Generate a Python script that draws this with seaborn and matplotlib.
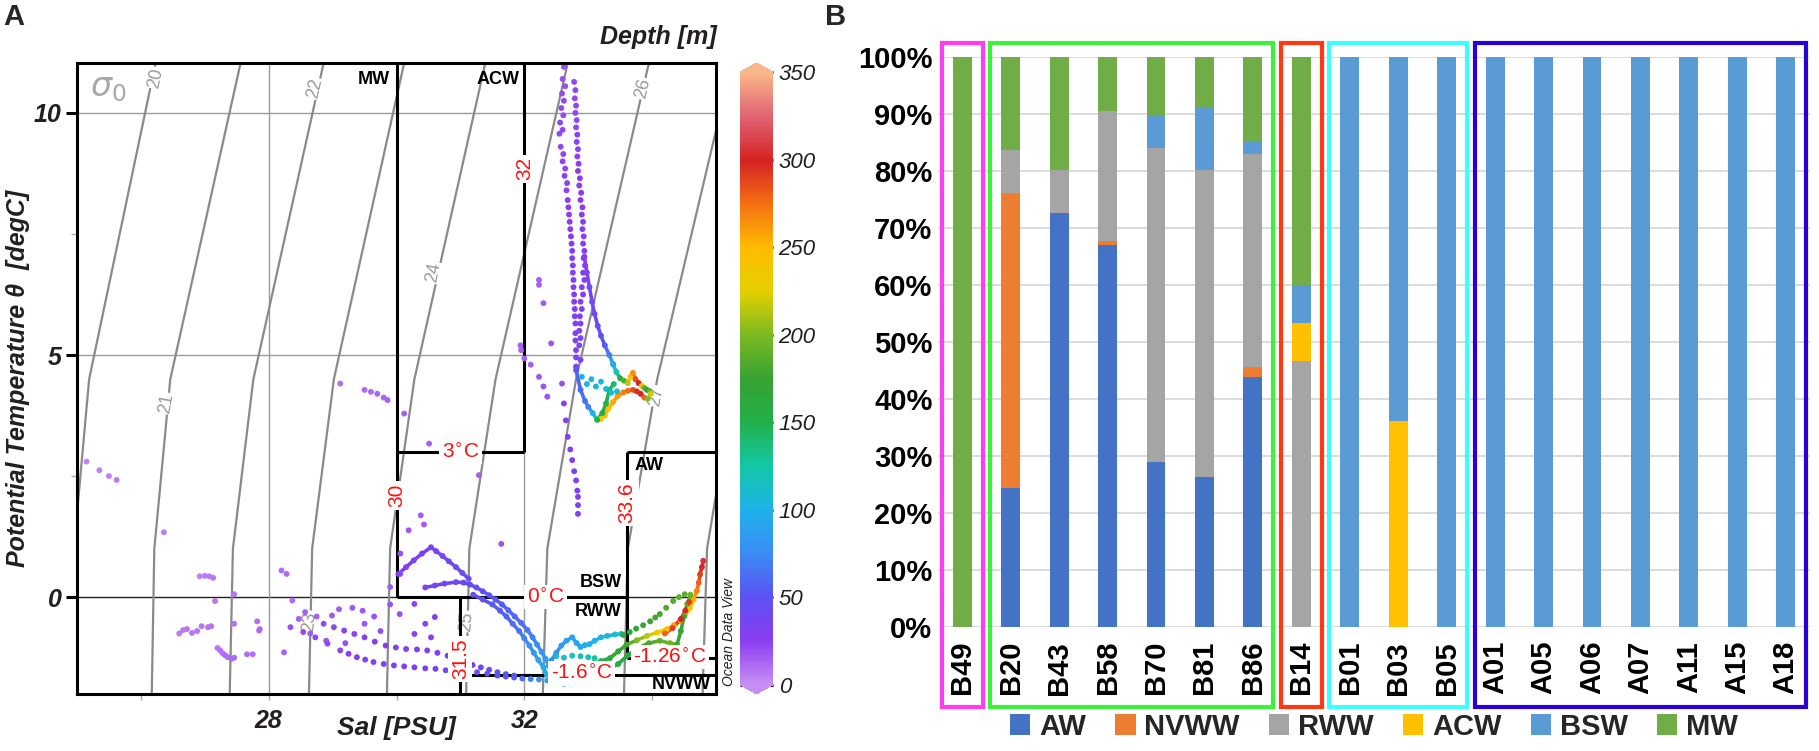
import numpy as np
import pandas as pd
import matplotlib
matplotlib.use("Agg")
import matplotlib.pyplot as plt
import matplotlib.transforms as mtransforms
import seaborn as sns
from matplotlib.colors import LinearSegmentedColormap, Normalize
from matplotlib.collections import LineCollection
from matplotlib.patches import Patch, Rectangle

# ---------------- panel A data: (salinity, theta, depth) ----------------
far_left = [
    (25.15, 2.80, 4), (25.35, 2.62, 5), (25.50, 2.50, 5), (25.62, 2.42, 6),
    (26.36, 1.34, 6), (26.92, 0.43, 5), (27.00, 0.44, 6), (27.07, 0.43, 6), (27.13, 0.40, 7),
    (27.16, -0.08, 8), (27.46, 0.06, 8),
    (26.60, -0.75, 6), (26.66, -0.68, 6), (26.72, -0.66, 7), (26.80, -0.74, 7), (26.88, -0.70, 8),
    (26.95, -0.60, 8), (27.05, -0.62, 9), (27.10, -0.60, 9), (27.46, -0.55, 9),
    (27.20, -1.05, 8), (27.24, -1.10, 9), (27.28, -1.16, 9), (27.32, -1.20, 10), (27.36, -1.24, 10),
    (27.42, -1.27, 11), (27.46, -1.25, 11), (27.66, -1.18, 10), (27.75, -1.18, 10),
    (27.85, -0.69, 12), (27.82, -0.50, 10), (27.86, -0.66, 12),
    (28.20, 0.55, 10), (28.28, 0.48, 11), (28.24, -1.14, 14), (28.37, -0.07, 12),
]
mid_scatter = [
    (29.12, 4.41, 10), (29.50, 4.28, 12), (29.60, 4.24, 12), (29.70, 4.20, 13), (29.80, 4.12, 13),
    (29.86, 4.07, 14), (30.12, 3.79, 14), (30.51, 3.17, 15), (31.29, 2.52, 15), (31.64, 1.10, 18),
    (30.38, 1.69, 16), (30.43, 1.50, 16), (30.19, 1.38, 17), (30.06, 0.90, 18), (30.06, 0.48, 18),
    (29.90, 0.21, 16), (28.47, -0.45, 14), (28.57, -0.31, 15), (28.75, -0.40, 15), (28.99, -0.38, 16),
    (29.10, -0.25, 16), (29.31, -0.22, 17), (29.47, -0.28, 17), (29.50, -0.55, 18), (29.65, -0.40, 18),
    (29.75, -0.70, 20), (29.90, -0.15, 18), (30.05, -0.35, 20), (30.28, -0.14, 22), (30.45, -0.55, 24),
    (30.60, -0.41, 25), (30.54, -0.83, 26), (30.28, -0.76, 24), (28.65, -0.75, 16), (28.90, -0.90, 18),
    (29.20, -0.95, 20),
]
arc = [
    (30.03, 0.48, 28), (30.15, 0.62, 30), (30.27, 0.76, 32), (30.40, 0.90, 34), (30.54, 1.03, 36),
    (30.62, 0.95, 36), (30.72, 0.85, 37), (30.82, 0.74, 38), (30.93, 0.62, 40), (31.03, 0.50, 42),
    (31.13, 0.38, 44),
]
band_a = [
    (30.45, 0.20, 32), (30.60, 0.24, 35), (30.75, 0.28, 38), (30.93, 0.31, 40), (31.05, 0.30, 42),
    (31.15, 0.26, 45), (31.25, 0.20, 47), (31.35, 0.12, 50), (31.45, 0.04, 52), (31.55, -0.05, 54),
    (31.65, -0.15, 56), (31.75, -0.27, 58), (31.85, -0.40, 60), (31.95, -0.53, 62), (32.05, -0.68, 66),
    (32.13, -0.83, 70), (32.20, -0.98, 75), (32.27, -1.13, 80), (32.33, -1.27, 85), (32.38, -1.42, 90),
]
band_b = [
    (31.20, 0.05, 45), (31.35, -0.05, 48), (31.50, -0.15, 52), (31.62, -0.28, 55), (31.72, -0.40, 58),
    (31.82, -0.55, 62), (31.92, -0.70, 66), (32.00, -0.85, 72), (32.08, -1.00, 78), (32.15, -1.15, 84),
    (32.22, -1.30, 90), (32.30, -1.45, 95), (32.35, -1.60, 100),
]
low_a = [
    (28.86, -0.55, 22), (29.02, -0.62, 22), (29.18, -0.69, 24), (29.34, -0.76, 24), (29.50, -0.83, 25),
    (29.66, -0.92, 26), (29.83, -1.00, 27), (29.99, -1.04, 28), (30.15, -1.07, 30), (30.32, -1.08, 31),
    (30.48, -1.10, 32), (30.64, -1.15, 34), (30.80, -1.21, 36), (30.93, -1.28, 38), (31.06, -1.34, 40),
    (31.19, -1.40, 42), (31.32, -1.45, 44), (31.45, -1.50, 46), (31.58, -1.55, 48), (31.71, -1.59, 50),
    (31.84, -1.62, 55),
]
low_b = [
    (28.34, -0.62, 20), (28.54, -0.72, 21), (28.73, -0.83, 22), (28.92, -0.96, 23), (29.12, -1.10, 24),
    (29.25, -1.17, 25), (29.38, -1.24, 26), (29.51, -1.29, 27), (29.64, -1.34, 28), (29.80, -1.38, 29),
    (29.96, -1.41, 30), (30.12, -1.43, 31), (30.28, -1.45, 32), (30.45, -1.47, 34), (30.61, -1.48, 36),
    (30.77, -1.51, 38), (30.93, -1.55, 40), (31.10, -1.55, 42), (31.26, -1.55, 44), (31.42, -1.58, 46),
    (31.58, -1.62, 50), (31.71, -1.64, 52), (31.84, -1.66, 56), (31.97, -1.68, 62), (32.10, -1.69, 70),
    (32.23, -1.70, 80), (32.36, -1.72, 90),
]
bottom_cyan = [
    (32.42, -1.74, 100), (32.52, -1.77, 105), (32.62, -1.79, 110), (32.72, -1.78, 112),
    (32.82, -1.76, 110), (32.90, -1.72, 108),
]
cyan_curve = [
    (32.42, -1.31, 75), (32.50, -1.15, 80), (32.58, -1.00, 85), (32.66, -0.90, 88), (32.75, -0.83, 90),
    (32.82, -0.95, 92), (32.88, -1.03, 95), (32.95, -0.99, 98), (33.02, -0.97, 100), (33.10, -0.90, 102),
    (33.20, -0.83, 105), (33.30, -0.80, 108), (33.42, -0.77, 110), (33.52, -0.76, 112),
]
cyan_low = [
    (32.50, -1.22, 110), (32.62, -1.25, 112), (32.75, -1.21, 115), (32.88, -1.22, 118),
    (33.00, -1.24, 120), (33.10, -1.26, 125),
]
deep_a = [
    (33.08, -1.37, 140), (33.20, -1.32, 150), (33.34, -1.26, 160), (33.47, -1.12, 170), (33.60, -0.98, 180),
    (33.76, -0.89, 200), (33.92, -0.80, 215), (34.08, -0.73, 230), (34.23, -0.66, 245), (34.34, -0.58, 258),
    (34.44, -0.49, 268), (34.52, -0.36, 252), (34.59, -0.23, 242), (34.65, -0.05, 255), (34.70, 0.13, 268),
    (34.73, 0.30, 280), (34.75, 0.47, 290), (34.78, 0.62, 298), (34.80, 0.75, 305),
]
deep_b = [
    (33.30, -1.50, 150), (33.47, -1.38, 155), (33.62, -1.20, 160), (33.78, -1.05, 172), (33.95, -0.95, 182),
    (34.12, -0.90, 190), (34.28, -0.95, 195), (34.39, -0.98, 175), (34.45, -0.70, 172), (34.50, -0.40, 178),
    (34.55, -0.14, 188), (34.60, 0.05, 195),
]
deep_c = [(34.20, -0.75, 280), (34.32, -0.64, 290), (34.45, -0.45, 300), (34.52, -0.28, 298), (34.58, -0.10, 292)]
deep_d = [
    (33.55, -0.78, 160), (33.65, -0.72, 163), (33.75, -0.65, 167), (33.86, -0.58, 170), (33.97, -0.50, 175),
    (34.05, -0.42, 178), (34.12, -0.35, 180), (34.22, -0.22, 182), (34.33, -0.08, 185), (34.42, 0.00, 188),
    (34.51, 0.06, 190),
]
streak_a = [
    (32.62, 10.95, 20), (32.60, 10.70, 20), (32.59, 10.40, 21), (32.58, 10.10, 21), (32.56, 9.80, 22),
    (32.55, 9.57, 22), (32.57, 9.30, 23), (32.60, 9.00, 23), (32.63, 8.70, 24), (32.66, 8.40, 24),
    (32.68, 8.20, 25), (32.70, 7.90, 25), (32.72, 7.60, 26), (32.74, 7.30, 26), (32.75, 7.00, 27),
    (32.76, 6.70, 27), (32.77, 6.40, 28), (32.78, 6.10, 28), (32.79, 5.80, 29), (32.80, 5.45, 30),
    (32.81, 5.10, 31), (32.81, 4.76, 32),
]
streak_a2 = [
    (32.64, 10.55, 20), (32.62, 10.25, 21), (32.61, 9.95, 21), (32.60, 9.65, 22), (32.61, 9.15, 23),
    (32.64, 8.85, 23), (32.67, 8.55, 24), (32.69, 8.05, 25), (32.71, 7.75, 25), (32.73, 7.45, 26),
    (32.75, 7.15, 26), (32.76, 6.85, 27), (32.77, 6.55, 27), (32.78, 6.25, 28), (32.79, 5.95, 29),
    (32.80, 5.65, 30), (32.80, 5.30, 31), (32.81, 4.95, 32),
]
streak_b = [
    (32.78, 10.64, 22), (32.79, 10.30, 22), (32.80, 10.00, 23), (32.81, 9.70, 23), (32.82, 9.40, 24),
    (32.83, 9.10, 24), (32.84, 8.80, 25), (32.86, 8.50, 25), (32.88, 8.20, 26), (32.90, 7.90, 26),
    (32.91, 7.60, 27), (32.92, 7.30, 27), (32.93, 7.00, 28), (32.92, 6.70, 28), (32.90, 6.40, 29),
    (32.88, 6.10, 30), (32.87, 5.80, 31), (32.86, 5.50, 32), (32.86, 5.20, 33), (32.88, 4.90, 35),
]
streak_b2 = [
    (32.80, 10.47, 22), (32.81, 10.15, 22), (32.82, 9.85, 23), (32.83, 9.55, 24), (32.84, 9.25, 24),
    (32.85, 8.95, 25), (32.87, 8.65, 25), (32.89, 8.35, 26), (32.91, 8.05, 26), (32.92, 7.75, 27),
    (32.93, 7.45, 27), (32.94, 7.15, 28), (32.95, 6.85, 28), (32.94, 6.55, 29), (32.92, 6.25, 30),
    (32.90, 5.95, 31), (32.88, 5.65, 32), (32.88, 5.35, 33),
]
streak_c = [
    (32.94, 7.03, 30), (32.98, 6.70, 32), (33.02, 6.40, 35), (33.06, 6.10, 38), (33.10, 5.85, 40),
    (33.15, 5.60, 44), (33.20, 5.40, 48), (33.26, 5.20, 55), (33.33, 5.00, 70), (33.39, 4.81, 100),
]
purple_drop = [
    (32.62, 4.00, 25), (32.65, 3.65, 26), (32.68, 3.31, 27), (32.72, 3.05, 28), (32.75, 2.83, 29),
    (32.78, 2.60, 30), (32.81, 2.41, 31), (32.83, 2.20, 32), (32.84, 2.07, 32), (32.84, 1.90, 33),
    (32.84, 1.72, 34),
]
upper_iso = [
    (32.23, 6.55, 15), (32.23, 6.45, 15), (32.30, 6.07, 16), (32.42, 5.24, 18), (31.94, 5.20, 14),
    (32.00, 4.93, 15), (32.10, 4.80, 16), (32.23, 4.55, 17), (32.30, 4.35, 18), (32.36, 4.14, 19),
    (32.59, 4.41, 20), (31.95, 5.10, 14),
]
warm_a = [
    (33.39, 4.81, 100), (33.44, 4.65, 125), (33.50, 4.52, 150), (33.56, 4.47, 185), (33.62, 4.42, 215),
    (33.66, 4.55, 245), (33.70, 4.63, 265), (33.74, 4.50, 285), (33.79, 4.42, 300), (33.84, 4.36, 250),
    (33.88, 4.32, 190), (33.92, 4.28, 175), (33.96, 4.25, 190), (33.98, 4.20, 220),
]
warm_b = [
    (33.20, 3.68, 235), (33.26, 3.75, 240), (33.32, 3.90, 250), (33.39, 4.03, 255), (33.46, 4.15, 262),
    (33.55, 4.23, 268), (33.62, 4.26, 275), (33.70, 4.28, 285), (33.76, 4.25, 295), (33.82, 4.20, 300),
    (33.88, 4.12, 280), (33.93, 4.10, 200),
]
warm_c = [
    (32.81, 4.69, 55), (32.88, 4.28, 60), (32.95, 4.05, 65), (33.00, 3.93, 70), (33.07, 3.80, 100),
    (33.14, 3.66, 150), (33.22, 3.80, 155), (33.28, 4.00, 150), (33.33, 4.28, 145), (33.40, 4.40, 140),
]
warm_d = [
    (32.90, 4.55, 100), (32.98, 4.40, 105), (33.05, 4.50, 105), (33.12, 4.35, 108), (33.20, 4.45, 110),
    (33.28, 4.30, 110), (33.36, 4.22, 112), (33.45, 4.25, 112),
]

# isopycnals sigma0: salinity at theta = -2, 1, 4.5, 11.03
iso_temp = [-2.0, 1.0, 4.5, 11.03]
iso_levels = [20, 21, 22, 23, 24, 25, 26, 27, 28]
iso_sal = {
    20: [24.90, 24.95, 25.19, 26.23],
    21: [26.17, 26.21, 26.46, 27.56],
    22: [27.39, 27.44, 27.76, 28.86],
    23: [28.63, 28.68, 29.02, 30.12],
    24: [29.85, 29.90, 30.28, 31.39],
    25: [31.09, 31.14, 31.55, 32.68],
    26: [32.29, 32.36, 32.81, 33.95],
    27: [33.56, 33.62, 34.08, 35.25],
    28: [34.79, 34.86, 35.30, 36.50],
}

depth_ticks = [0, 50, 100, 150, 200, 250, 300, 350]

# ---------------- panel B data (%) ----------------
stations = ["B49", "B20", "B43", "B58", "B70", "B81", "B86", "B14", "B01", "B03", "B05",
            "A01", "A05", "A06", "A07", "A11", "A15", "A18"]
aw   = [0, 24.4, 72.6, 67.1, 28.9, 26.4, 43.9, 0, 0, 0, 0, 0, 0, 0, 0, 0, 0, 0]
nvww = [0, 51.7, 0, 0.7, 0, 0, 1.7, 0, 0, 0, 0, 0, 0, 0, 0, 0, 0, 0]
rww  = [0, 7.5, 7.5, 22.7, 55.2, 53.7, 37.3, 46.6, 0, 0, 0, 0, 0, 0, 0, 0, 0, 0]
acw  = [0, 0, 0, 0, 0, 0, 0, 6.7, 0, 36.2, 0, 0, 0, 0, 0, 0, 0, 0]
bsw  = [0, 0, 0, 0, 5.8, 11.0, 2.4, 6.7, 100, 63.8, 100, 100, 100, 100, 100, 100, 100, 100]
mw   = [100, 16.4, 19.9, 9.5, 10.1, 8.9, 14.7, 40.0, 0, 0, 0, 0, 0, 0, 0, 0, 0, 0]
mass_names = ["AW", "NVWW", "RWW", "ACW", "BSW", "MW"]
pct_ticks = list(range(0, 101, 10))
# station groups (first index, last index)
groups = [(0, 0), (1, 6), (7, 7), (8, 10), (11, 17)]

# ---------------- style ----------------
sns.set_theme(style="white")
plt.rcParams['font.family'] = ['Liberation Sans', 'DejaVu Sans']

odv = LinearSegmentedColormap.from_list("odv", [
    (0 / 350, "#c88ef6"), (25 / 350, "#8a3cf0"), (50 / 350, "#5c52f2"), (75 / 350, "#3a8cf5"),
    (100 / 350, "#1eb2ea"), (125 / 350, "#12c8a4"), (150 / 350, "#22b048"), (175 / 350, "#38a232"),
    (200 / 350, "#7cba22"), (225 / 350, "#e4d000"), (250 / 350, "#ffbc00"), (275 / 350, "#f47012"),
    (300 / 350, "#d42222"), (325 / 350, "#e06272"), (350 / 350, "#f9b68a")])
odv.set_under("#c88ef6")
odv.set_over("#f9b68a")
norm = Normalize(0, 350)

mass_colors = ["#4472c4", "#ed7d31", "#a5a5a5", "#ffc000", "#5b9bd5", "#70ad47"]
box_colors = ["#ff3cf0", "#3cf03c", "#ff3a10", "#3cffff", "#2a00d8"]

fig = plt.figure(figsize=(18.19, 7.51), dpi=100)
W, H = 1819, 751
axA = fig.add_axes([77 / W, 57 / H, 639 / W, 631 / H])
cax = fig.add_axes([740 / W, 57 / H, 33 / W, 631 / H])
axB = fig.add_axes([938 / W, 124 / H, 872 / W, 570 / H])

# ---------------- panel A ----------------
axA.set_xlim(25, 35)
axA.set_ylim(-2.0, 11.03)

for v in [5, 10]:
    axA.axhline(v, color="#9a9a9a", lw=1, zorder=1)
axA.axhline(0, color="#222222", lw=1, zorder=1)
for v in [28, 32]:
    axA.axvline(v, color="#9a9a9a", lw=1, zorder=1)

for lev in iso_levels:
    axA.plot(iso_sal[lev], iso_temp, color="#8a8a8a", lw=1.6, zorder=1.5)

iso_lab = [(20, 26.23, 10.72, 78), (21, 26.40, 4.00, 80), (22, 28.73, 10.50, 77), (23, 28.64, -0.50, 85),
           (24, 30.58, 6.70, 79), (25, 31.10, -0.50, 85), (26, 33.86, 10.50, 77), (27, 34.07, 4.15, 80)]
for lev, sx, ty, rot in iso_lab:
    axA.text(sx, ty, str(lev), color="#9a9a9a", fontsize=13, rotation=rot, ha="center", va="center",
             zorder=2, bbox=dict(boxstyle="square,pad=0.05", fc="white", ec="none"))
axA.text(25.2, 10.5, r"$\sigma_0$", color="#a8a8a8", fontsize=24, ha="left", va="center", zorder=2)

# water mass boundaries
blk = dict(color="black", lw=2.2, zorder=2.5, solid_capstyle="butt")
axA.plot([30, 30], [0, 11.03], **blk)
axA.plot([32, 32], [3, 11.03], **blk)
axA.plot([30, 32], [3, 3], **blk)
axA.plot([30, 33.6], [0, 0], **blk)
axA.plot([31.0, 31.0], [-2.0, 0], **blk)
axA.plot([31.0, 35], [-1.6, -1.6], **blk)
axA.plot([33.6, 33.6], [-1.26, 3], **blk)
axA.plot([33.6, 35], [3, 3], **blk)
axA.plot([33.6, 35], [-1.26, -1.26], **blk)

# scatter of casts
dot_groups = [far_left, mid_scatter, arc, band_a, band_b, low_a, low_b, bottom_cyan, cyan_curve,
              cyan_low, deep_a, deep_b, deep_c, deep_d, streak_a, streak_a2, streak_b, streak_b2,
              streak_c, purple_drop, upper_iso, warm_a, warm_b, warm_c, warm_d]
line_groups = [arc, band_a, band_b, cyan_curve, deep_a, deep_b, deep_c, streak_c, warm_a, warm_b, warm_c]

for g in line_groups:
    arr = np.array(g, dtype=float)
    segs = np.stack([arr[:-1, :2], arr[1:, :2]], axis=1)
    lc = LineCollection(segs, cmap=odv, norm=norm, linewidths=2.6, capstyle="round", zorder=3)
    lc.set_array((arr[:-1, 2] + arr[1:, 2]) / 2)
    axA.add_collection(lc)

df = pd.DataFrame([p for g in dot_groups for p in g], columns=["sal", "temp", "depth"])
sns.scatterplot(data=df, x="sal", y="temp", hue="depth", palette=odv, hue_norm=(0, 350),
                s=18, linewidth=0, legend=False, ax=axA, zorder=4)

red = dict(color="#ff1010", fontsize=15, ha="center", va="center", zorder=6,
           bbox=dict(boxstyle="square,pad=0.12", fc="white", ec="none"))
axA.text(32.0, 8.85, "32", rotation=90, **red)
axA.text(31.0, 3.0, "3$^{\\circ}$C", **red)
axA.text(30.0, 2.1, "30", rotation=90, **red)
axA.text(33.6, 1.95, "33.6", rotation=90, **red)
axA.text(32.33, 0.0, "0$^{\\circ}$C", **red)
axA.text(31.0, -1.28, "31.5", rotation=90, **red)
axA.text(32.9, -1.58, "-1.6$^{\\circ}$C", **red)
axA.text(34.28, -1.24, "-1.26$^{\\circ}$C", **red)

lab = dict(color="black", fontsize=13, fontweight="bold", va="center", zorder=6)
axA.text(29.9, 10.68, "MW", ha="right", **lab)
axA.text(31.92, 10.68, "ACW", ha="right", **lab)
axA.text(33.72, 2.72, "AW", ha="left", **lab)
axA.text(33.52, 0.30, "BSW", ha="right", **lab)
axA.text(33.52, -0.30, "RWW", ha="right", **lab)
axA.text(34.92, -1.80, "NVWW", ha="right", **lab)

for side in axA.spines.values():
    side.set_visible(True)
    side.set_color("black")
    side.set_linewidth(2.2)
    side.set_zorder(7)

axA.set_xticks([28, 32])
axA.set_xticks([26, 30, 34], minor=True)
axA.set_yticks([0, 5, 10])
axA.set_yticks([2.5, 7.5], minor=True)
axA.tick_params(axis="y", which="major", direction="out", length=8, width=2.2, color="black",
                left=True, labelsize=18, pad=3)
axA.tick_params(axis="y", which="minor", direction="out", length=4, width=1, color="#aaaaaa", left=True)
axA.tick_params(axis="x", which="both", direction="out", length=4, width=1, color="#aaaaaa",
                bottom=True, labelsize=18, pad=7)
for t in axA.get_xticklabels() + axA.get_yticklabels():
    t.set_fontweight("bold")
    t.set_fontstyle("italic")
    t.set_color("#231f20")

axA.set_xlabel("Sal [PSU]", fontsize=19, fontweight="bold", fontstyle="italic", color="#231f20")
axA.set_ylabel("Potential Temperature \u03b8  [degC]", fontsize=18, fontweight="bold",
               fontstyle="italic", color="#231f20")
axA.xaxis.set_label_coords(0.5, -0.035)
axA.yaxis.set_label_coords(-0.073, 0.5)

# colorbar
sm = plt.cm.ScalarMappable(norm=norm, cmap=odv)
cb = fig.colorbar(sm, cax=cax, extend="both", extendfrac=0.015, ticks=depth_ticks)
cb.outline.set_visible(False)
cax.tick_params(direction="in", length=8, width=2, left=True, right=True, labelsize=16, pad=4,
                color="black")
for t in cax.get_yticklabels():
    t.set_fontstyle("italic")
    t.set_color("#231f20")

fig.text(717 / W, 1 - 37 / H, "Depth [m]", ha="right", va="center", fontsize=18,
         fontweight="bold", fontstyle="italic", color="#231f20")
fig.text(729 / W, 1 - 632 / H, "Ocean Data View", rotation=90, ha="center", va="center",
         fontsize=10, fontstyle="italic", color="#231f20")

# ---------------- panel B ----------------
layers = [aw, nvww, rww, acw, bsw, mw]
cum = np.zeros(len(stations))
cums = []
for vals in layers:
    cum = cum + np.array(vals, dtype=float)
    cums.append(cum.copy())
for c, col in reversed(list(zip(cums, mass_colors))):
    sns.barplot(x=stations, y=c, order=stations, color=col, width=0.39, saturation=1,
                errorbar=None, ax=axB, zorder=2, linewidth=0)

axB.set_xlim(-0.5, len(stations) - 0.5)
axB.set_ylim(0, 100)
axB.set_yticks(pct_ticks)
axB.set_yticklabels([f"{v}%" for v in pct_ticks])
axB.yaxis.grid(True, color="#d9d9d9", lw=1.3)
axB.xaxis.grid(False)
axB.set_axisbelow(True)
for side in axB.spines.values():
    side.set_visible(False)
axB.tick_params(axis="y", length=0, labelsize=21, pad=4)
axB.tick_params(axis="x", length=0, labelsize=21, pad=10, labelrotation=90)
for t in axB.get_xticklabels() + axB.get_yticklabels():
    t.set_fontweight("bold")
    t.set_color("black")
axB.set_xlabel("")
axB.set_ylabel("")

trans = mtransforms.blended_transform_factory(axB.transData, axB.transAxes)
for (i0, i1), col in zip(groups, box_colors):
    axB.add_patch(Rectangle((i0 - 0.42, -0.14), (i1 - i0) + 0.84, 1.165, transform=trans,
                            fill=False, edgecolor=col, lw=3, clip_on=False, zorder=5))

handles = [Patch(facecolor=c, edgecolor="none", label=n) for n, c in zip(mass_names, mass_colors)]
axB.legend(handles=handles, loc="center", bbox_to_anchor=(0.5, -0.175), ncol=6, frameon=False,
           prop={"weight": "bold", "size": 21}, handlelength=0.7, handleheight=0.7,
           handletextpad=0.3, columnspacing=1.0, borderaxespad=0)

fig.text(3 / W, 1 - 3 / H, "A", ha="left", va="top", fontsize=21, fontweight="bold")
fig.text(825 / W, 1 - 3 / H, "B", ha="left", va="top", fontsize=21, fontweight="bold")

fig.savefig("out.png", dpi=100, facecolor="white")
